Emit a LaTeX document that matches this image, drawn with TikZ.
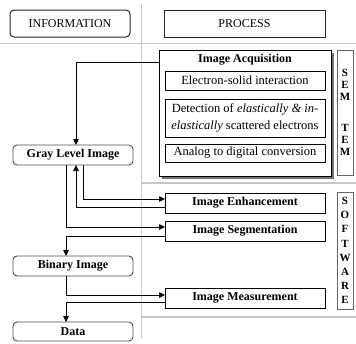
\documentclass[tikz,border=0pt]{standalone}
\usepackage{fontspec}
\setmainfont{Liberation Serif}
\usetikzlibrary{arrows.meta,shadows}
\begin{document}
\begin{tikzpicture}[x=1pt,y=-1pt,
  every node/.style={inner sep=0pt, outer sep=0pt},
  header/.style={draw=black!85, line width=1pt, minimum height=27pt, font=\fontsize{12}{14}\selectfont},
  infobox/.style={draw=black!70, line width=0.9pt, rounded corners=4pt, minimum width=120pt, minimum height=20pt, fill=white, font=\bfseries\fontsize{12}{14}\selectfont},
  procbox/.style={draw=black, line width=0.8pt, minimum width=160pt, minimum height=20pt, fill=white,
     drop shadow={shadow xshift=1.2pt, shadow yshift=-1.2pt, fill=black!60, opacity=1},
     font=\bfseries\fontsize{12}{14}\selectfont},
  subbox/.style={draw=black, line width=0.7pt, minimum width=160pt, fill=white, align=center,
     drop shadow={shadow xshift=1pt, shadow yshift=-1pt, fill=black!55, opacity=1},
     font=\fontsize{12.5}{17}\selectfont},
  sidebox/.style={draw=black!60, line width=0.8pt, minimum width=16pt, fill=white},
  sidetext/.style={align=center, font=\bfseries\fontsize{11}{12}\selectfont},
  guide/.style={draw=black!22, line width=1.2pt},
  arr/.style={draw=black, line width=0.8pt, -{Triangle[length=6pt,width=5.5pt]}},
  ln/.style={draw=black, line width=0.8pt}
]
\useasboundingbox (0,0) rectangle (356,343);

% guide lines
\coordinate (g1) at (141.5,4);
\coordinate (g2) at (141.5,338);
\draw[guide] (g1) -- (g2);
\coordinate (h1a) at (0,43.5);
\coordinate (h1b) at (356,43.5);
\draw[guide] (h1a) -- (h1b);
\coordinate (h2a) at (141.5,183);
\coordinate (h2b) at (356,183);
\draw[guide] (h2a) -- (h2b);
\coordinate (h3a) at (141.5,317);
\coordinate (h3b) at (356,317);
\draw[guide] (h3a) -- (h3b);

% headers
\node[header, rounded corners=4pt, minimum width=120pt] (info) at (70,23.5) {INFORMATION};
\node[header, minimum width=161pt,
  drop shadow={shadow xshift=1.2pt, shadow yshift=-1.2pt, fill=black!60, opacity=1}, fill=white] (proc) at (244.5,23.5) {PROCESS};

% image acquisition
\node[draw=black, line width=1pt, minimum width=172pt, minimum height=126pt, fill=white,
  drop shadow={shadow xshift=2.5pt, shadow yshift=-2.5pt, fill=black!55, opacity=1}] (acq) at (245,113) {};
\node[font=\bfseries\fontsize{12}{14}\selectfont] (acqt) at (245,60) {Image Acquisition};
\node[subbox, minimum height=19pt] (esi) at (245,80.5) {Electron-solid interaction};
\node[subbox, minimum height=38pt] (det) at (245,118) {Detection of \textit{elastically \& in-}\\\textit{elastically} scattered electrons};
\node[subbox, minimum height=18pt] (adc) at (245,153) {Analog to digital conversion};

% side boxes
\node[sidebox, minimum height=125pt] (sem) at (345,112.5) {};
\node[sidetext] (semt) at (345,85) {S\\E\\M};
\node[sidetext] (temt) at (345,140) {T\\E\\M};
\node[sidebox, minimum height=117pt] (soft) at (345,250.5) {};
\node[sidetext, font=\bfseries\fontsize{11}{14.2}\selectfont] (softt) at (345,250.5) {S\\O\\F\\T\\W\\A\\R\\E};

% process boxes
\node[procbox] (enh) at (245,203) {Image Enhancement};
\node[procbox] (seg) at (245,231) {Image Segmentation};
\node[procbox] (meas) at (245,298) {Image Measurement};

% info boxes
\node[infobox] (gray) at (73,155) {Gray Level Image};
\node[infobox] (bin) at (73,266) {Binary Image};
\node[infobox, minimum height=19pt] (data) at (73,331.5) {Data};

% connectors
\draw[arr] ([yshift=51pt]acq.west) -| ([xshift=3pt]gray.north);
\draw[arr] ([xshift=10pt]gray.south) |- ([yshift=4pt]enh.west);
\draw[arr] ([yshift=-4pt]enh.west) -| ([xshift=3pt]gray.south);
\draw[arr] ([xshift=-7pt]gray.south) |- ([yshift=4pt]seg.west);
\draw[arr] ([yshift=-5pt]seg.west) -| ([xshift=-7pt]bin.north);
\draw[arr] ([xshift=-7pt]bin.south) |- ([yshift=3pt]meas.west);
\draw[arr] ([yshift=-4pt]meas.west) -| ([xshift=-7pt]data.north);
\end{tikzpicture}
\end{document}
